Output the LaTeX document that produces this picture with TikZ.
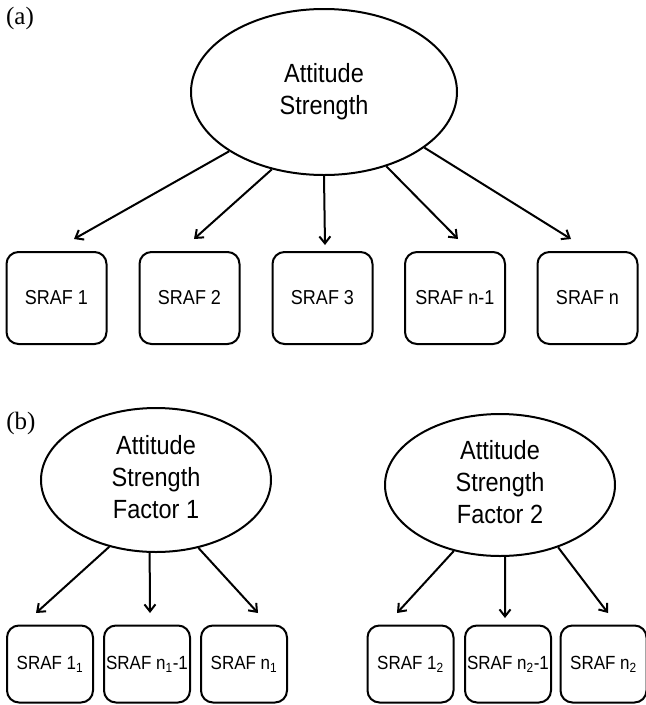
\documentclass[tikz,border=0pt]{standalone}
\usepackage{fontspec}
\setmainfont{Liberation Sans}
\newfontfamily\tnr{Liberation Serif}
\usetikzlibrary{shapes.geometric,arrows.meta}
\newcommand{\vst}[1]{\scalebox{1}[1.12]{#1}}
\begin{document}
\begin{tikzpicture}[x=1pt,y=-1pt,
  lat/.style={draw,ellipse,line width=2pt,inner sep=0pt,align=center,
    font=\fontsize{23.5}{30}\selectfont},
  indA/.style={draw,rounded corners=12pt,line width=2pt,inner sep=0pt,align=center,
    minimum width=100pt,minimum height=92pt,font=\fontsize{18}{20}\selectfont},
  indB/.style={draw,rounded corners=12pt,line width=2pt,inner sep=0pt,align=center,
    minimum width=86pt,minimum height=77pt,font=\fontsize{17}{19}\selectfont},
  arr/.style={line width=2pt,-{Straight Barb[length=7pt,width=11pt]}},
  plab/.style={inner sep=0pt,font=\tnr\fontsize{25}{27}\selectfont}]
\useasboundingbox[fill=white] (0,0) rectangle (646,705);

% ---------- (a) ----------
\node[plab] (la) at (20,18) {(a)};
\node[lat,minimum width=266pt,minimum height=166pt] (A) at (324,92)
  {\raisebox{9pt}{\begin{tabular}{@{}c@{}}\vst{Attitude}\\[2pt]\vst{Strength}\end{tabular}}};

\node[indA] (a1) at (56.5,298) {\vst{SRAF 1}};
\node[indA] (a2) at (189.5,298) {\vst{SRAF 2}};
\node[indA] (a3) at (322.5,298) {\vst{SRAF 3}};
\node[indA] (a4) at (455,298) {\vst{SRAF n-1}};
\node[indA] (a5) at (587.5,298) {\vst{SRAF n}};

\coordinate (ta1) at (74,239);
\coordinate (ta2) at (194,239);
\coordinate (ta3) at (325,245);
\coordinate (ta4) at (458,239);
\coordinate (ta5) at (571,239);

\draw[arr] (A.212) -- (ta1);
\draw[arr] (A.236) -- (ta2);
\draw[arr] (A.270) -- (ta3);
\draw[arr] (A.310) -- (ta4);
\draw[arr] (A.331) -- (ta5);

% ---------- (b) ----------
\node[plab] (lb) at (21,423) {(b)};
\node[lat,minimum width=230pt,minimum height=144pt] (B1) at (156,480)
  {\raisebox{-2pt}{\begin{tabular}{@{}c@{}}\vst{Attitude}\\[2pt]\vst{Strength}\\[2pt]\vst{Factor 1}\end{tabular}}};
\node[lat,minimum width=230pt,minimum height=142pt] (B2) at (500,485)
  {\raisebox{2pt}{\begin{tabular}{@{}c@{}}\vst{Attitude}\\[2pt]\vst{Strength}\\[2pt]\vst{Factor 2}\end{tabular}}};

\node[indB] (b1) at (50,664) {\vst{SRAF 1\textsubscript{1}}};
\node[indB] (b2) at (147,664) {\vst{SRAF n\textsubscript{1}-1}};
\node[indB] (b3) at (244,664) {\vst{SRAF n\textsubscript{1}}};
\node[indB] (b4) at (410.5,664) {\vst{SRAF 1\textsubscript{2}}};
\node[indB] (b5) at (508,664) {\vst{SRAF n\textsubscript{2}-1}};
\node[indB] (b6) at (603.5,664) {\vst{SRAF n\textsubscript{2}}};

\coordinate (tb1) at (36,613);
\coordinate (tb2) at (150,613);
\coordinate (tb3) at (258,613);
\coordinate (tb4) at (397,613);
\coordinate (tb5) at (505,618);
\coordinate (tb6) at (608,613);

\draw[arr] (B1.235) -- (tb1);
\draw[arr] (B1.265) -- (tb2);
\draw[arr] (B1.302) -- (tb3);
\draw[arr] (B2.235) -- (tb4);
\draw[arr] (B2.274) -- (tb5);
\draw[arr] (B2.313) -- (tb6);
\end{tikzpicture}
\end{document}
